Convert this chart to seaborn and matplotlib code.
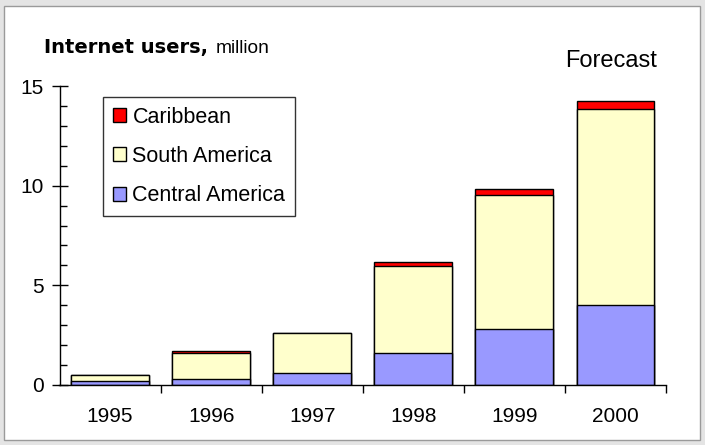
import matplotlib
matplotlib.use("Agg")
import matplotlib.pyplot as plt
from matplotlib.patches import Patch, Rectangle
from matplotlib.ticker import MultipleLocator, FixedLocator
import numpy as np
import pandas as pd
import seaborn as sns

# Internet users in Latin America, million
years = ["1995", "1996", "1997", "1998", "1999", "2000"]
central_america = [0.2, 0.3, 0.6, 1.6, 2.8, 4.0]
south_america = [0.3, 1.3, 2.0, 4.35, 6.75, 9.83]
caribbean = [0.02, 0.12, 0.02, 0.2, 0.3, 0.4]

series_names = ["Caribbean", "South America", "Central America"]
series_colors = {"Caribbean": "#FF0000", "South America": "#FFFFCC", "Central America": "#9999FF"}

df = pd.DataFrame({
    "year": years,
    "Central America": central_america,
    "South America": south_america,
    "Caribbean": caribbean,
})
# cumulative heights for the stacked layers
df["cum_central"] = df["Central America"]
df["cum_south"] = df["cum_central"] + df["South America"]
df["cum_carib"] = df["cum_south"] + df["Caribbean"]

sns.set_theme(style="white")
plt.rcParams["font.family"] = ["Liberation Sans", "DejaVu Sans"]
plt.rcParams["text.color"] = "black"
plt.rcParams["xtick.color"] = "black"
plt.rcParams["ytick.color"] = "black"

W, H = 705, 445
fig = plt.figure(figsize=(W / 100, H / 100), dpi=100)
fig.patch.set_facecolor("#e4e4e4")
# white chart panel behind the axes
fig.patches.append(Rectangle((4 / W, 5 / H), 696 / W, 434 / H, transform=fig.transFigure,
                             facecolor="white", edgecolor="#9a9a9a", linewidth=1, zorder=-10))

ax = fig.add_axes([59.5 / W, (H - 385) / H, 606.5 / W, 299 / H])
ax.set_facecolor("none")

bar_kw = dict(width=0.77, edgecolor="black", linewidth=1.0, ax=ax, order=years)
sns.barplot(data=df, x="year", y="cum_carib", color=series_colors["Caribbean"], saturation=1, **bar_kw)
sns.barplot(data=df, x="year", y="cum_south", color=series_colors["South America"], saturation=1, **bar_kw)
sns.barplot(data=df, x="year", y="cum_central", color=series_colors["Central America"], saturation=1, **bar_kw)

ax.set_xlim(-0.5, 5.5)
ax.set_ylim(0, 15)
ax.set_xlabel("")
ax.set_ylabel("")

for side in ["top", "right"]:
    ax.spines[side].set_visible(False)
for side in ["left", "bottom"]:
    ax.spines[side].set_color("black")
    ax.spines[side].set_linewidth(1.0)

ax.yaxis.set_major_locator(MultipleLocator(5))
ax.yaxis.set_minor_locator(MultipleLocator(1))
ax.tick_params(axis="y", which="major", direction="inout", length=11, width=1, color="black",
               labelsize=15, pad=6, left=True)
ax.tick_params(axis="y", which="minor", direction="in", length=5, width=1, color="black", left=True)

ax.xaxis.set_minor_locator(FixedLocator(np.arange(0.5, 5.6, 1.0)))
ax.tick_params(axis="x", which="major", length=0, labelsize=15, pad=16)
ax.tick_params(axis="x", which="minor", direction="out", length=6, width=1, color="black", bottom=True)

handles = [Patch(facecolor=series_colors[n], edgecolor="black", linewidth=1) for n in series_names]
leg = ax.legend(handles, series_names, loc="upper left", bbox_to_anchor=(0.0717, 0.963),
                borderaxespad=0, fontsize=15.5, frameon=True, fancybox=False, shadow=False,
                handlelength=0.62, handleheight=0.62, handletextpad=0.3, labelspacing=0.85,
                borderpad=0.45)
leg.get_frame().set_edgecolor("black")
leg.get_frame().set_linewidth(1.0)
leg.get_frame().set_facecolor("white")

fig.text(44 / W, (H - 53) / H, "Internet users,", fontsize=14, fontweight="bold",
         family=["DejaVu Sans"], va="baseline", ha="left")
fig.text(216 / W, (H - 53) / H, "million", fontsize=13.8, va="baseline", ha="left")
fig.text(565 / W, (H - 67) / H, "Forecast", fontsize=17, va="baseline", ha="left")

fig.savefig("out.png", dpi=100, facecolor=fig.get_facecolor())
